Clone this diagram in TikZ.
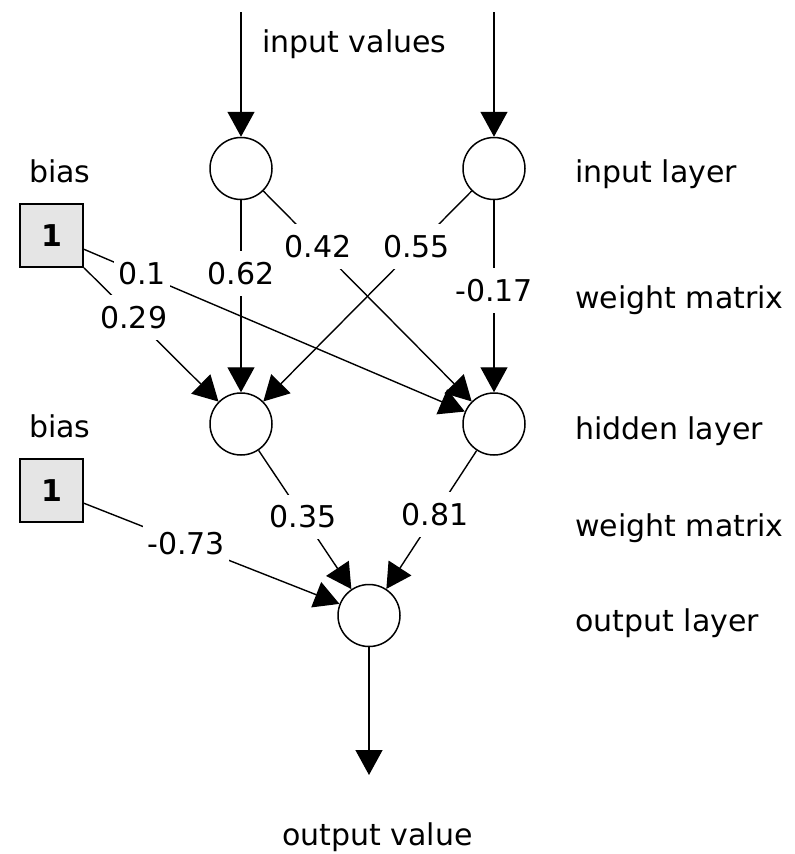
\documentclass[tikz,border=0pt]{standalone}
\usepackage{fontspec}
\setmainfont{DejaVu Sans}
\usetikzlibrary{arrows.meta}
\begin{document}
\begin{tikzpicture}[x=1pt,y=-1pt,
  font=\fontsize{30}{36}\selectfont,
  neuron/.style={circle,draw,line width=1.5pt,minimum size=62pt,inner sep=0pt},
  biasbox/.style={draw,line width=2pt,fill=black!10,minimum size=63pt,inner sep=0pt,
    font=\fontsize{30}{36}\selectfont\bfseries},
  conn/.style={line width=1.4pt,-{Triangle[length=25pt,width=27pt]}},
  wt/.style={fill=white,inner xsep=4pt,inner ysep=11pt},
  txt/.style={anchor=base west,inner sep=0pt}]
\useasboundingbox (0,0) rectangle (795,854);

% neurons
\node[neuron] (i1) at (241,168.5) {};
\node[neuron] (i2) at (494,168.5) {};
\node[neuron] (h1) at (241,424) {};
\node[neuron] (h2) at (494,424) {};
\node[neuron] (o)  at (369,615.5) {};

% bias units
\node[biasbox] (b1) at (51.5,235.5) {1};
\node[biasbox] (b2) at (51.5,490.5) {1};

% free ends of the input and output arrows
\coordinate (in1) at (241,12);
\coordinate (in2) at (494,12);
\coordinate (out) at (369,775);

% input and output arrows
\draw[conn] (in1) -- (i1);
\draw[conn] (in2) -- (i2);
\draw[conn] (o) -- (out);

% first weight matrix
\draw[conn] (i1) -- node[wt,pos=0.38]{0.62} (h1);
\draw[conn] (i1) -- node[wt,pos=0.263]{0.42} (h2);
\draw[conn] (i2) -- node[wt,pos=0.265]{0.55} (h1);
\draw[conn] (i2) -- node[wt,pos=0.47]{-0.17} (h2);
\draw[conn] (b1) -- node[wt,pos=0.152]{0.1} (h2);
\draw[conn] (b1) -- node[wt,pos=0.37]{0.29} (h1);

% second weight matrix
\draw[conn] (h1) -- node[wt,pos=0.48]{0.35} (o);
\draw[conn] (h2) -- node[wt,pos=0.46]{0.81} (o);
\draw[conn] (b2) -- node[wt,pos=0.40]{-0.73} (o);

% captions
\node[txt] (tin)  at (262,52)  {input values};
\node[txt] (tb1)  at (29,182)  {bias};
\node[txt] (tb2)  at (29,437)  {bias};
\node[txt] (til)  at (575,182) {input layer};
\node[txt] (tw1)  at (575,308) {weight matrix};
\node[txt] (thl)  at (575,439) {hidden layer};
\node[txt] (tw2)  at (575,536) {weight matrix};
\node[txt] (tol)  at (575,631) {output layer};
\node[txt] (tout) at (282,845) {output value};
\end{tikzpicture}
\end{document}
